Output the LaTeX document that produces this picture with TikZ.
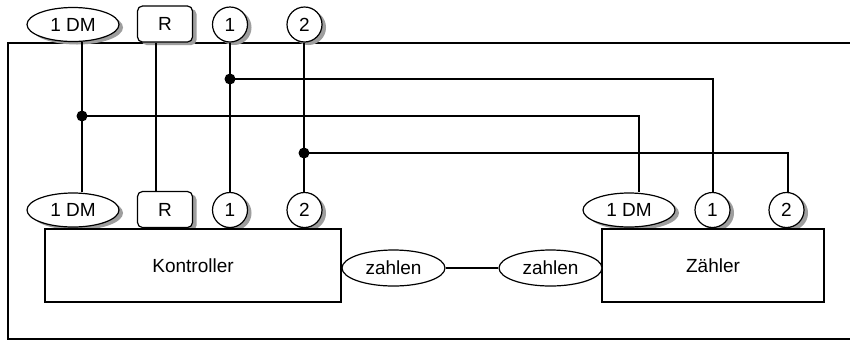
\documentclass[tikz,border=0pt]{standalone}
\usepackage{fontspec}
\setmainfont{Liberation Sans}
\usetikzlibrary{shapes.geometric,shadows}
\begin{document}
\begin{tikzpicture}[x=1pt,y=-1pt, line width=1.2pt,
  font=\fontsize{19}{21}\selectfont,
  sh/.style={drop shadow={shadow xshift=4pt, shadow yshift=-3pt, fill=black!38, opacity=1}},
  port/.style={draw, fill=white, sh, inner sep=0pt},
  oval/.style={port, ellipse, minimum width=92pt, minimum height=34pt},
  rbox/.style={port, rectangle, rounded corners=5pt, minimum width=55pt, minimum height=36pt},
  circ/.style={port, circle, minimum size=35pt},
  comp/.style={draw, fill=white, rectangle, inner sep=0pt, minimum height=73pt},
  msg/.style={draw, fill=white, ellipse, inner sep=0pt, minimum width=103pt, minimum height=36pt},
  dot/.style={fill=black}]
\clip (0,0) rectangle (850,341);
\fill[white] (0,0) rectangle (850,341);
% frame
\draw (8,43) rectangle (880,339);
% top ports
\node[oval] (tdm) at (73,24.5) {1 DM};
\node[rbox] (tr) at (165,24) {R};
\node[circ] (t1) at (230,24.5) {1};
\node[circ] (t2) at (304.5,24.5) {2};
% Kontroller ports
\node[oval] (kdm) at (73,210) {1 DM};
\node[rbox] (kr) at (165,209.5) {R};
\node[circ] (k1) at (230,210) {1};
\node[circ] (k2) at (304.5,210) {2};
% Zaehler ports
\node[oval] (zdm) at (629,210) {1 DM};
\node[circ] (z1) at (712.5,210) {1};
\node[circ] (z2) at (786.5,210) {2};
% components
\node[comp, minimum width=296pt] (kon) at (193,265.5) {Kontroller};
\node[comp, minimum width=222pt] (zae) at (713,265.5) {Zähler};
\node[msg] (zl) at (393.5,268) {zahlen};
\node[msg] (zr) at (550.5,268) {zahlen};
\draw (zl) -- (zr);
% line positions
\coordinate (xa) at (82,0);
\coordinate (xr) at (156,0);
\coordinate (xone) at (230,0);
\coordinate (xtwo) at (304,0);
\coordinate (xzdm) at (639,0);
\coordinate (xzone) at (713,0);
\coordinate (xztwo) at (788,0);
\coordinate (ja) at (82,116);
\coordinate (jb) at (230,79);
\coordinate (jc) at (304,153);
% connectors
\draw (tdm.south -| xa) -- (kdm.north -| xa);
\draw (tr.south -| xr) -- (kr.north -| xr);
\draw (t1.south -| xone) -- (k1.north -| xone);
\draw (t2.south -| xtwo) -- (k2.north -| xtwo);
\draw (ja) -| (zdm.north -| xzdm);
\draw (jb) -| (z1.north -| xzone);
\draw (jc) -| (z2.north -| xztwo);
\fill[dot] (ja) circle (5.5pt);
\fill[dot] (jb) circle (5.5pt);
\fill[dot] (jc) circle (5.5pt);
\end{tikzpicture}
\end{document}
